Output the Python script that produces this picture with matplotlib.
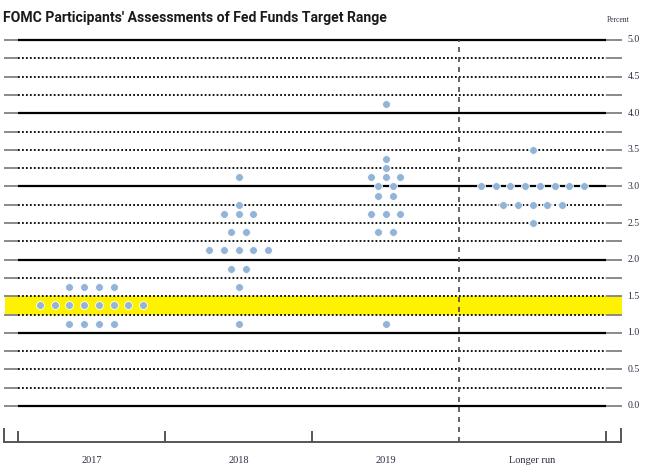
import matplotlib.pyplot as plt
from matplotlib import font_manager
import numpy as np

# data: (year column, rate midpoint, number of participants)
categories = ["2017", "2018", "2019", "Longer run"]
dots_2017 = [(1.625, 4), (1.375, 8), (1.125, 4)]
dots_2018 = [(3.125, 1), (2.75, 1), (2.625, 3), (2.375, 2), (2.125, 5),
             (1.875, 2), (1.625, 1), (1.125, 1)]
dots_2019 = [(4.125, 1), (3.375, 1), (3.25, 1), (3.125, 3), (3.0, 2),
             (2.875, 2), (2.625, 3), (2.375, 2), (1.125, 1)]
dots_longer = [(3.5, 1), (3.0, 8), (2.75, 5), (2.5, 1)]
all_dots = [dots_2017, dots_2018, dots_2019, dots_longer]

tick_vals = [0.0, 0.5, 1.0, 1.5, 2.0, 2.5, 3.0, 3.5, 4.0, 4.5, 5.0]
current_range = (1.25, 1.5)

DOT = "#92b4d8"
YELLOW = "#fff200"
LABEL = "#2d2d45"

# pick a narrow bold font for the title if one is installed
title_font = "DejaVu Sans"
for cand in ["Liberation Sans Narrow", "DejaVu Sans Condensed", "Roboto"]:
    try:
        font_manager.findfont(font_manager.FontProperties(family=cand),
                              fallback_to_default=False)
        title_font = cand
        break
    except Exception:
        pass

fig = plt.figure(figsize=(6.56, 4.75), dpi=100)
ax = fig.add_axes([0, 0, 1, 1])
# pixel mapping: x = 91.5 + 147*i, y = 406 - 73.2*v
ax.set_xlim((0 - 91.5) / 147, (656 - 91.5) / 147)
ax.set_ylim((406 - 475) / 73.2, (406 - 0) / 73.2)
ax.axis("off")

x_left, x_in_l, x_in_r, x_right = -0.595, -0.5, 3.5, 3.61

# yellow band for current target range
ax.fill_between([-0.588, x_right], current_range[0], current_range[1],
                color=YELLOW, zorder=1, lw=0)

# horizontal grid lines every 0.25
for v in np.arange(0, 5.01, 0.25):
    if abs(v - round(v)) < 1e-9:
        ax.plot([x_in_l, x_in_r], [v, v], color="black", lw=1.6, zorder=2,
                solid_capstyle="butt")
    else:
        ax.plot([x_in_l, x_in_r], [v, v], color="black", lw=1.3, zorder=2,
                linestyle=(0, (1.0, 1.2)))
    ax.plot([x_left, x_in_l], [v, v], color="#8a8a8a", lw=1.4, zorder=2,
            solid_capstyle="butt")
    ax.plot([x_in_r, x_right], [v, v], color="#8a8a8a", lw=1.4, zorder=2,
            solid_capstyle="butt")

# right tick labels
for v in tick_vals:
    ax.text(3.645, v, f"{v:.1f}", fontsize=7, family="Liberation Serif",
            color=LABEL, va="center", ha="left")
ax.text(3.585, 5.27, "Percent", fontsize=5.5, family="Liberation Serif",
        color=LABEL, va="center", ha="center")

# vertical dashed separator before longer run
ax.plot([2.5, 2.5], [-0.49, 5.0], color="#4a4a4a", lw=1.2,
        linestyle=(0, (3, 3)), zorder=2)

# bottom axis
y_ax = -0.49
ax.plot([x_left, 3.605], [y_ax, y_ax], color="#555555", lw=1.4,
        solid_capstyle="butt", zorder=2)
for xt in [x_left, 3.605]:
    ax.plot([xt, xt], [y_ax, -0.31], color="#555555", lw=1.4, zorder=2)
for xt in [-0.5, 0.5, 1.5, 3.5]:
    ax.plot([xt, xt], [y_ax, -0.355], color="#555555", lw=1.4, zorder=2)
for i, name in enumerate(categories):
    ax.text(i, -0.745, name, fontsize=7.5, family="Liberation Serif",
            color=LABEL, ha="center", va="center")

# dots
for i, col in enumerate(all_dots):
    for rate, n in col:
        xs = i + (np.arange(n) - (n - 1) / 2) * 0.1
        ax.scatter(xs, [rate] * n, s=32, color=DOT, edgecolors="white",
                   linewidths=0.6, zorder=4)

title = fig.text(3 / 656, 1 - 18 / 475,
                 "FOMC Participants' Assessments of Fed Funds Target Range",
                 fontsize=13, fontweight="bold", family=title_font,
                 color="#1a1a1a", ha="left", va="center")
# shrink title so that it spans the same width as the reference (~382 px)
fig.canvas.draw()
w = title.get_window_extent().width
title.set_fontsize(13 * 382 / w)

fig.savefig("out.png", dpi=100)
